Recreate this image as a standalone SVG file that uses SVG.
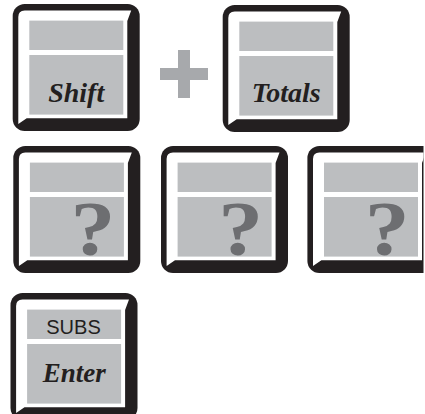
<svg xmlns="http://www.w3.org/2000/svg" width="425" height="414" viewBox="0 0 425 414">
<style>
.outer{fill:#231f20}
.bevel{fill:#ffffff}
.face{fill:#bcbec0}
.lbl{font-family:"Liberation Serif","Times New Roman",serif;font-weight:bold;font-style:italic;fill:#231f20;text-anchor:middle}
.q{font-family:"Liberation Serif","Times New Roman",serif;font-weight:bold;fill:#6d6e71;text-anchor:middle;font-size:78px}
.subs{font-family:"Liberation Sans",Arial,sans-serif;font-size:20px;fill:#231f20;text-anchor:middle}
.plus{fill:#a7a9ac}
</style>
<defs>
<g id="keycap">
<rect class="outer" x="0" y="0" width="127" height="127" rx="12"/>
<path class="bevel" d="M5.6,13 Q5.6,6.5 12,6.5 L118.5,6.5 L114.6,17 L114.6,114.3 L14,114.3 L5.6,120 Z"/>
<rect class="face" x="16.6" y="16.6" width="94" height="29.4"/>
<rect class="face" x="16.6" y="51" width="94" height="59.6"/>
</g>
<clipPath id="edge"><rect x="0" y="0" width="423.5" height="414"/></clipPath>
</defs>
<g id="key-shift" transform="translate(12.7,4)">
<use href="#keycap"/>
<text class="lbl" x="63.5" y="97.7" font-size="28">Shift</text>
</g>
<g id="plus">
<rect class="plus" x="160" y="68" width="48" height="12"/>
<rect class="plus" x="178" y="50" width="12" height="48"/>
</g>
<g id="key-totals" transform="translate(222.7,5)">
<use href="#keycap"/>
<text class="lbl" x="63.5" y="96.7" font-size="28">Totals</text>
</g>
<g id="key-q1" transform="translate(13.3,146)">
<use href="#keycap"/>
<text class="q" transform="translate(79.7,109) scale(1.15,1)">?</text>
</g>
<g id="key-q2" transform="translate(161,146)">
<use href="#keycap"/>
<text class="q" transform="translate(79.7,109) scale(1.15,1)">?</text>
</g>
<g id="key-q3" clip-path="url(#edge)">
<g transform="translate(307.4,146)">
<use href="#keycap"/>
<text class="q" transform="translate(79.7,109) scale(1.15,1)">?</text>
</g>
</g>
<g id="key-enter" transform="translate(10.5,293)">
<use href="#keycap"/>
<text class="subs" x="63" y="41">SUBS</text>
<text class="lbl" x="63.7" y="88.7" font-size="27">Enter</text>
</g>
<g id="connectors"/>
</svg>
